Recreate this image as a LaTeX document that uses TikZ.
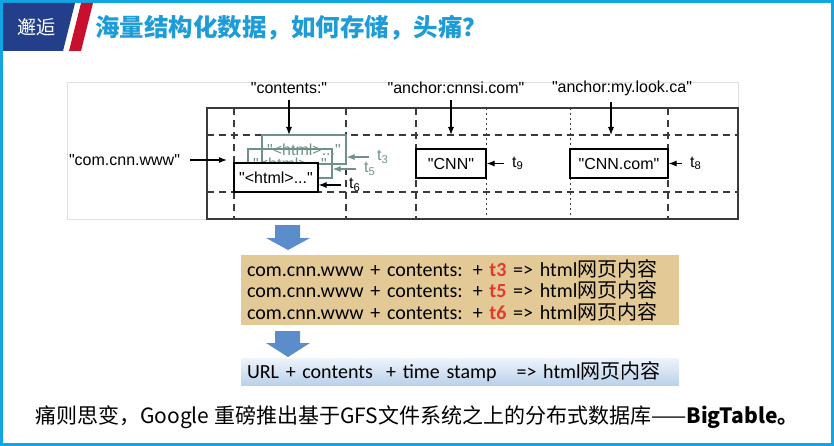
\documentclass[tikz,border=0pt]{standalone}
\usepackage{xcolor}
\usepackage{fontspec}
\setmainfont{Liberation Sans}
\newfontfamily\cjk{Noto Sans CJK SC}
\newfontfamily\slidefont{Carlito}
\usepackage{tikz}
\usetikzlibrary{arrows.meta, positioning}
\definecolor{framecyan}{HTML}{11A6E3}
\definecolor{headnavy}{HTML}{233E8B}
\definecolor{headred}{HTML}{C8102E}
\definecolor{titleblue}{HTML}{1E9CD8}
\definecolor{sage}{HTML}{6E9285}
\definecolor{gridgray}{HTML}{3A3A3A}
\definecolor{parchment}{HTML}{E3C995}
\definecolor{arrowblue}{HTML}{5B8DCB}
\definecolor{stampred}{HTML}{E23B2E}
\definecolor{sumtop}{HTML}{EEF4FB}
\definecolor{sumbottom}{HTML}{BBD1EA}
\newcommand{\zh}[1]{{\cjk #1}}
\newcommand{\qt}[1]{\textquotedbl#1\textquotedbl}
\newcommand{\tstamp}[1]{t\textsubscript{#1}}
\newcommand{\versionline}[1]{%
    com.cnn.www + contents: + {\bfseries\color{stampred}#1} => html\zh{网页内容}%
}

\begin{document}
\begin{tikzpicture}[
        x=1pt, y=-1pt,
        gridline/.style={line width=1.1pt, draw=gridgray, dash pattern=on 7pt off 5pt},
        gridfine/.style={line width=0.9pt, draw=gridgray, dash pattern=on 2pt off 3pt},
        colname/.style={inner sep=2pt, font=\fontsize{16}{18}\selectfont},
        cell/.style={
            draw=black,
            line width=1.1pt,
            fill=white,
            minimum height=29pt,
            inner sep=0pt,
            font=\fontsize{16}{18}\selectfont
        },
        ghost/.style={cell, fill=none, draw=sage, text=sage},
        stamp/.style={anchor=west, inner xsep=4pt, inner ysep=0pt, font=\fontsize{16}{18}\selectfont},
        pointer/.style={-{Latex[length=8pt, width=6pt]}, line width=1.1pt, shorten <=4pt},
        slidebox/.style={
            inner xsep=6pt,
            inner ysep=0pt,
            text width=426pt,
            align=left,
            font=\slidefont\fontsize{20}{21.5}\selectfont
        },
        blockarrow/.style={fill=arrowblue}
    ]
        \useasboundingbox (0,0) rectangle (834,446);
        \draw[framecyan, line width=3pt] (1.5,1.5) rectangle (832.5,444.5);
        \fill[headnavy] (3,3) -- (75,3) -- (63,51) -- (3,51) -- cycle;
        \fill[headred] (81,3) -- (93,3) -- (81,51) -- (69,51) -- cycle;
        \node[text=white, font=\cjk\fontsize{19}{19}\selectfont] (tag) at (36,27) {邂逅};
        \node[anchor=west, inner sep=0pt, text=titleblue, font=\cjk\bfseries\fontsize{24.5}{24.5}\selectfont] (title) at (95,28) {海量结构化数据，如何存储，头痛？};

        \draw[black!12] (67,82) rectangle (738,219);
        \draw[line width=1.2pt, gridgray] (207,108) rectangle (738,219);
        \foreach \y in {135,192} \draw[gridline] (207,\y) -- (738,\y);
        \foreach \x in {234,346,416,668} \draw[gridline] (\x,108) -- (\x,219);
        \foreach \x in {486,570} \draw[gridfine] (\x,108) -- (\x,219);

        \node[colname] (contents) at (289,88) {\qt{contents:}};
        \node[colname] (cnnsi) at (456,88) {\qt{anchor:cnnsi.com}};
        \node[colname] (looksite) at (622,88) {\qt{anchor:my.look.ca}};
        \node[colname] (rowkey) at (124.5,160) {\qt{com.cnn.www}};
        \coordinate (contentshit) at (289,135);
        \coordinate (cnnsihit) at (451,135);
        \coordinate (lookhit) at (611,135);
        \coordinate (rowhit) at (227,160);
        \draw[pointer] (contents.south) -- (contentshit);
        \draw[pointer] (cnnsi.south -| cnnsihit) -- (cnnsihit);
        \draw[pointer] (looksite.south -| lookhit) -- (lookhit);
        \draw[pointer, shorten <=8pt] (rowkey.east) -- (rowhit);

        \node[ghost, minimum width=84pt] (htmlthree) at (304,149.5) {\qt{<html>...}};
        \node[ghost, minimum width=84pt] (htmlfive) at (290,163.5) {\qt{<html>...}};
        \node[cell, minimum width=84pt] (htmlsix) at (276,177.5) {\qt{<html>...}};
        \node[cell, minimum width=70pt] (cnn) at (451,163.5) {\qt{CNN}};
        \node[cell, minimum width=98pt] (cnncom) at (619,163.5) {\qt{CNN.com}};

        \node[stamp, text=sage] (tthree) at (373,157) {\tstamp{3}};
        \node[stamp, text=sage] (tfive) at (360,169) {\tstamp{5}};
        \node[stamp] (tsix) at (345,185) {\tstamp{6}};
        \node[stamp] (tnine) at (508,163.5) {\tstamp{9}};
        \node[stamp] (teight) at (686,163.5) {\tstamp{8}};
        \draw[pointer, sage] (tthree.west) -- (tthree.west -| htmlthree.east);
        \draw[pointer, sage] (tfive.west) -- (tfive.west -| htmlfive.east);
        \draw[pointer] (tsix.west) -- (tsix.west -| htmlsix.east);
        \draw[pointer] (tnine.west) -- (cnn.east);
        \draw[pointer] (teight.west) -- (cnncom.east);

        \foreach \top/\neck/\tip in {225/238/250, 331/343/357}
            \fill[blockarrow] (275,\top) -- (300,\top) -- (300,\neck) -- (310,\neck)
                -- (288,\tip) -- (266,\neck) -- (275,\neck) -- cycle;

        \node[slidebox, fill=parchment, minimum height=70pt] (versions) at (460,290)
            {\versionline{t3}\\\versionline{t5}\\\versionline{t6}};
        \node[slidebox, top color=sumtop, bottom color=sumbottom, minimum height=27pt] (summary) at (460,371.5)
            {URL + contents\ \ + time stamp\ \ \ => html\zh{网页内容}};

        \node[anchor=west, inner sep=0pt, font=\cjk\fontsize{21}{21}\selectfont] (punchline) at (35,417)
            {痛则思变，Google 重磅推出基于GFS文件系统之上的分布式数据库——\textbf{BigTable。}};
    \end{tikzpicture}
\end{document}
